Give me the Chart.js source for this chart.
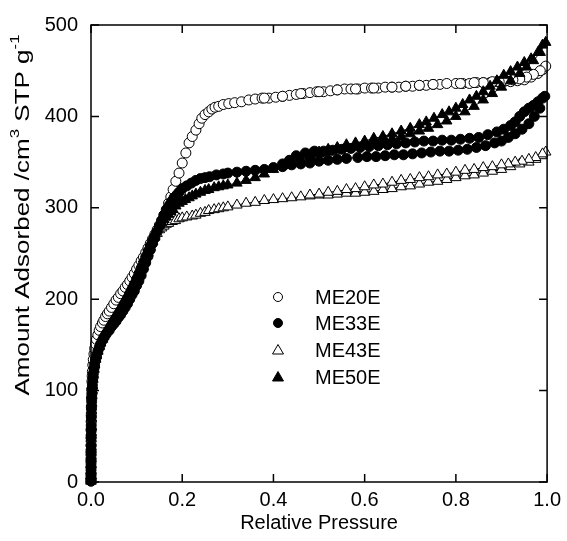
<!DOCTYPE html>
<html>
<head>
<meta charset="utf-8">
<script src="https://cdn.jsdelivr.net/npm/chart.js@4"></script>
<style>
  body { margin: 0; background: #fff; }
  canvas { display: block; }
</style>
</head>
<body>
<canvas id="grafico" width="567" height="541"></canvas>
<script>
// isotermas: ramo de adsorcao seguido do ramo de dessorcao
const series = ['ME20E', 'ME33E', 'ME43E', 'ME50E'];

const me20eP = [0.000005, 0.00001, 0.00002, 0.00004, 0.00007, 0.0001, 0.00015, 0.0002, 0.0003, 0.0004, 0.0005, 0.0007, 0.001, 0.0014, 0.002, 0.0025, 0.003, 0.004, 0.005, 0.0065, 0.008, 0.01, 0.012, 0.015, 0.018, 0.021, 0.025, 0.028, 0.032, 0.036, 0.04, 0.045, 0.05, 0.055, 0.06, 0.065, 0.07, 0.075, 0.08, 0.085, 0.09, 0.095, 0.1, 0.105, 0.11, 0.115, 0.12, 0.125, 0.13, 0.135, 0.14, 0.145, 0.15, 0.155, 0.16, 0.165, 0.17, 0.175, 0.18, 0.186, 0.193, 0.2, 0.208, 0.215, 0.222, 0.23, 0.237, 0.243, 0.25, 0.258, 0.265, 0.272, 0.28, 0.29, 0.302, 0.315, 0.33, 0.346, 0.36, 0.375, 0.39, 0.405, 0.42, 0.435, 0.45, 0.465, 0.48, 0.495, 0.51, 0.525, 0.54, 0.556, 0.57, 0.585, 0.6, 0.615, 0.63, 0.645, 0.66, 0.675, 0.69, 0.705, 0.72, 0.735, 0.75, 0.765, 0.8, 0.815, 0.83, 0.845, 0.86, 0.875, 0.89, 0.905, 0.92, 0.935, 0.95, 0.965, 0.98, 0.99, 0.997,
  0.985, 0.97, 0.955, 0.94, 0.925, 0.91, 0.895, 0.88, 0.86, 0.84, 0.81, 0.78, 0.75, 0.72, 0.69, 0.66, 0.62, 0.58, 0.54, 0.5, 0.46, 0.42, 0.38];
const me20eV = [1, 4, 9, 16, 24, 32, 40, 48, 58, 66, 73, 82, 92, 101, 110, 116, 121, 128, 134, 140, 146, 151, 156, 161, 166, 170, 174, 177, 181, 184, 187, 191, 195, 199, 202, 206, 209, 213, 216, 220, 224, 228, 233, 237, 242, 246, 251, 256, 261, 266, 271, 276, 281, 286, 292, 298, 305, 312, 320, 329, 338, 349, 360, 371, 378, 385, 392, 398, 402, 405, 408, 410, 411, 413, 414, 415, 416, 418, 419, 420, 420, 421, 422, 423, 424, 425, 426, 427, 427, 428, 429, 430, 430, 430, 431, 431, 431, 432, 432, 432, 433, 433, 434, 434, 435, 435, 436, 436, 436, 437, 437, 437, 438, 438, 438, 439, 440, 443, 447, 451, 455,
  450, 446, 443, 441, 440, 439, 438, 438, 437, 437, 436, 436, 435, 434, 433, 432, 431, 430, 429, 427, 425, 422, 420];

const me33eP = [0.000005, 0.00001, 0.00002, 0.00004, 0.00007, 0.0001, 0.00015, 0.0002, 0.0003, 0.0004, 0.0005, 0.0007, 0.001, 0.0014, 0.002, 0.0025, 0.003, 0.004, 0.005, 0.0065, 0.008, 0.01, 0.012, 0.015, 0.018, 0.021, 0.025, 0.028, 0.032, 0.036, 0.04, 0.045, 0.05, 0.055, 0.06, 0.065, 0.07, 0.075, 0.08, 0.085, 0.09, 0.095, 0.1, 0.105, 0.11, 0.115, 0.12, 0.125, 0.13, 0.135, 0.14, 0.145, 0.15, 0.155, 0.16, 0.166, 0.172, 0.177, 0.182, 0.188, 0.193, 0.2, 0.21, 0.22, 0.23, 0.24, 0.25, 0.26, 0.275, 0.29, 0.3, 0.32, 0.34, 0.36, 0.38, 0.4, 0.42, 0.44, 0.46, 0.48, 0.5, 0.52, 0.54, 0.56, 0.585, 0.605, 0.625, 0.645, 0.665, 0.685, 0.705, 0.725, 0.745, 0.765, 0.785, 0.805, 0.825, 0.845, 0.865, 0.885, 0.9, 0.915, 0.93, 0.945, 0.96, 0.972, 0.984, 0.995,
  0.99, 0.98, 0.97, 0.96, 0.95, 0.94, 0.93, 0.92, 0.905, 0.89, 0.87, 0.85, 0.83, 0.81, 0.79, 0.77, 0.75, 0.73, 0.71, 0.69, 0.67, 0.65, 0.63, 0.61, 0.59, 0.57, 0.55, 0.53, 0.51, 0.49, 0.47, 0.45, 0.435, 0.42];
const me33eV = [1, 3, 7, 13, 20, 26, 33, 40, 49, 56, 62, 71, 80, 88, 96, 102, 106, 113, 118, 124, 129, 134, 138, 143, 147, 151, 155, 158, 161, 164, 166, 170, 173, 176, 180, 183, 187, 191, 195, 200, 205, 209, 215, 220, 226, 233, 240, 247, 254, 261, 267, 274, 280, 286, 292, 298, 303, 307, 311, 314, 317, 321, 324, 327, 330, 332, 333, 334, 336, 337, 338, 339, 340, 341, 342, 344, 345, 347, 348, 349, 351, 352, 353, 354, 355, 356, 356, 357, 358, 358, 359, 360, 361, 362, 362, 363, 364, 366, 368, 371, 373, 377, 381, 386, 392, 400, 409, 422,
  420, 416, 412, 409, 405, 400, 394, 390, 386, 383, 380, 377, 376, 375, 374, 374, 373, 373, 372, 371, 370, 369, 368, 367, 366, 365, 364, 363, 362, 362, 360, 357, 352, 348];

const me43eP = [0.000005, 0.00001, 0.00002, 0.00004, 0.00007, 0.0001, 0.00015, 0.0002, 0.0003, 0.0004, 0.0005, 0.0007, 0.001, 0.0014, 0.002, 0.0025, 0.003, 0.004, 0.005, 0.0065, 0.008, 0.01, 0.012, 0.015, 0.018, 0.021, 0.025, 0.028, 0.032, 0.036, 0.04, 0.045, 0.05, 0.055, 0.06, 0.065, 0.07, 0.075, 0.08, 0.085, 0.09, 0.095, 0.1, 0.105, 0.11, 0.115, 0.12, 0.125, 0.13, 0.135, 0.14, 0.145, 0.15, 0.155, 0.16, 0.165, 0.17, 0.178, 0.185, 0.193, 0.2, 0.21, 0.222, 0.23, 0.24, 0.25, 0.258, 0.27, 0.28, 0.29, 0.3, 0.32, 0.34, 0.36, 0.38, 0.4, 0.42, 0.44, 0.46, 0.48, 0.5, 0.52, 0.54, 0.56, 0.58, 0.6, 0.62, 0.64, 0.66, 0.68, 0.7, 0.72, 0.74, 0.76, 0.78, 0.8, 0.82, 0.84, 0.86, 0.88, 0.9, 0.92, 0.94, 0.96, 0.975, 0.988, 0.997,
  0.99, 0.975, 0.96, 0.945, 0.93, 0.915, 0.9, 0.88, 0.86, 0.84, 0.82, 0.8, 0.78, 0.76, 0.74, 0.72, 0.7, 0.68, 0.66, 0.64, 0.62, 0.6, 0.58, 0.56, 0.54, 0.52, 0.5, 0.48];
const me43eV = [1, 3, 7, 12, 19, 25, 32, 38, 47, 54, 60, 69, 78, 86, 94, 100, 105, 112, 117, 123, 128, 134, 138, 143, 148, 152, 156, 159, 163, 166, 170, 174, 178, 182, 186, 190, 194, 198, 203, 207, 212, 217, 222, 227, 233, 239, 245, 251, 257, 263, 268, 272, 276, 278, 280, 282, 283, 285, 286, 288, 289, 290, 291, 292, 294, 295, 297, 298, 299, 300, 301, 303, 305, 306, 308, 309, 310, 311, 312, 313, 314, 314, 315, 316, 316, 317, 318, 320, 321, 323, 324, 326, 328, 329, 331, 333, 335, 336, 338, 340, 342, 345, 348, 350, 353, 357, 361,
  359, 355, 353, 351, 350, 348, 347, 345, 344, 342, 341, 339, 337, 336, 334, 333, 331, 330, 328, 326, 325, 323, 321, 320, 318, 317, 315, 314];

const me50eP = [0.000005, 0.00001, 0.00002, 0.00004, 0.00007, 0.0001, 0.00015, 0.0002, 0.0003, 0.0004, 0.0005, 0.0007, 0.001, 0.0014, 0.002, 0.0025, 0.003, 0.004, 0.005, 0.0065, 0.008, 0.01, 0.012, 0.015, 0.018, 0.021, 0.025, 0.028, 0.032, 0.036, 0.04, 0.045, 0.05, 0.055, 0.06, 0.065, 0.07, 0.075, 0.08, 0.085, 0.09, 0.095, 0.1, 0.105, 0.11, 0.115, 0.12, 0.125, 0.13, 0.135, 0.14, 0.145, 0.15, 0.155, 0.16, 0.165, 0.17, 0.175, 0.18, 0.186, 0.193, 0.2, 0.207, 0.215, 0.222, 0.23, 0.24, 0.25, 0.258, 0.27, 0.28, 0.29, 0.3, 0.32, 0.34, 0.36, 0.38, 0.4, 0.42, 0.44, 0.46, 0.48, 0.5, 0.52, 0.54, 0.56, 0.58, 0.6, 0.62, 0.64, 0.66, 0.68, 0.7, 0.72, 0.74, 0.76, 0.78, 0.8, 0.82, 0.84, 0.86, 0.88, 0.9, 0.92, 0.94, 0.955, 0.97, 0.985, 0.997,
  0.99, 0.98, 0.965, 0.95, 0.935, 0.92, 0.905, 0.89, 0.875, 0.86, 0.845, 0.83, 0.815, 0.8, 0.785, 0.77, 0.752, 0.735, 0.72, 0.7, 0.68, 0.66, 0.64, 0.62, 0.6, 0.58, 0.56, 0.54, 0.52, 0.5, 0.48];
const me50eV = [1, 3, 7, 13, 20, 26, 33, 39, 48, 55, 61, 70, 79, 87, 95, 101, 106, 113, 118, 124, 129, 135, 139, 144, 149, 153, 157, 160, 164, 167, 171, 175, 179, 183, 187, 191, 196, 200, 205, 210, 215, 220, 226, 232, 238, 244, 250, 256, 262, 268, 273, 277, 281, 284, 287, 290, 293, 296, 298, 302, 305, 307, 309, 311, 313, 315, 317, 319, 320, 322, 323, 324, 325, 327, 330, 333, 337, 342, 346, 350, 353, 356, 359, 361, 363, 365, 367, 369, 371, 373, 375, 378, 381, 384, 387, 391, 395, 400, 405, 411, 418, 425, 432, 439, 447, 454, 461, 470, 481,
  478, 470, 463, 459, 454, 449, 445, 439, 433, 427, 422, 418, 413, 409, 405, 402, 398, 394, 391, 387, 384, 381, 378, 376, 373, 371, 369, 366, 364, 361, 358];

const xTicks = [0, 0.2, 0.4, 0.6, 0.8, 1.0];
const yTicks = [0, 100, 200, 300, 400, 500];

const FONTE = '"Liberation Sans", Arial, sans-serif';

function pontos(ps, vs) {
  return ps.map((p, i) => ({ x: p, y: vs[i] }));
}

function serie(nome, ps, vs, estilo, cheio, ordem) {
  return {
    label: nome,
    data: pontos(ps, vs),
    showLine: true,
    borderColor: '#000',
    borderWidth: 1,
    pointStyle: estilo,
    pointRadius: estilo === 'triangle' ? 6 : 5,
    pointBackgroundColor: cheio ? '#000' : '#fff',
    pointBorderColor: '#000',
    pointBorderWidth: 1,
    order: ordem,
    clip: 10
  };
}

// moldura, marcas internas, titulo do eixo y e legenda
const extras = {
  id: 'extras',
  afterDatasetsDraw(chart) {
    const ctx = chart.ctx;
    const a = chart.chartArea;
    const sx = chart.scales.x;
    const sy = chart.scales.y;
    ctx.save();
    ctx.strokeStyle = '#000';
    ctx.lineWidth = 1.5;
    ctx.strokeRect(a.left, a.top, a.right - a.left, a.bottom - a.top);
    ctx.beginPath();
    xTicks.forEach(t => {
      const px = sx.getPixelForValue(t);
      ctx.moveTo(px, a.bottom); ctx.lineTo(px, a.bottom - 8);
      ctx.moveTo(px, a.top); ctx.lineTo(px, a.top + 8);
    });
    yTicks.forEach(t => {
      const py = sy.getPixelForValue(t);
      ctx.moveTo(a.left, py); ctx.lineTo(a.left + 8, py);
      ctx.moveTo(a.right, py); ctx.lineTo(a.right - 8, py);
    });
    ctx.stroke();

    // titulo do eixo y com sobrescritos (esticado no sentido da leitura)
    ctx.translate(22, 215);
    ctx.rotate(-Math.PI / 2);
    ctx.scale(1.3, 1);
    const partes = [
      ['Amount Adsorbed /cm', 20, 0],
      ['3', 13, -8],
      [' STP g', 20, 0],
      ['-1', 13, -8]
    ];
    let total = 0;
    partes.forEach(([t, f]) => { ctx.font = f + 'px ' + FONTE; total += ctx.measureText(t).width; });
    let x = -total / 2;
    ctx.fillStyle = '#000';
    ctx.textBaseline = 'middle';
    ctx.textAlign = 'left';
    partes.forEach(([t, f, dy]) => {
      ctx.font = f + 'px ' + FONTE;
      ctx.fillText(t, x, dy + 1);
      x += ctx.measureText(t).width;
    });
    ctx.restore();

    // legenda dentro do grafico
    ctx.save();
    const linhas = [297, 323, 350, 377];
    chart.data.datasets.forEach((ds, i) => {
      const y = linhas[i];
      const x0 = 278;
      ctx.lineWidth = 1;
      ctx.strokeStyle = '#000';
      ctx.fillStyle = ds.pointBackgroundColor;
      ctx.beginPath();
      if (ds.pointStyle === 'triangle') {
        ctx.moveTo(x0, y - 5.5);
        ctx.lineTo(x0 + 5.5, y + 4);
        ctx.lineTo(x0 - 5.5, y + 4);
        ctx.closePath();
      } else {
        ctx.arc(x0, y, 4.5, 0, Math.PI * 2);
      }
      ctx.fill();
      ctx.stroke();
      ctx.fillStyle = '#000';
      ctx.font = '20px ' + FONTE;
      ctx.textBaseline = 'middle';
      ctx.fillText(ds.label, 315, y + 1);
    });
    ctx.restore();
  }
};

new Chart(document.getElementById('grafico'), {
  type: 'scatter',
  data: {
    datasets: [
      serie(series[0], me20eP, me20eV, 'circle', false, 4),
      serie(series[1], me33eP, me33eV, 'circle', true, 2),
      serie(series[2], me43eP, me43eV, 'triangle', false, 3),
      serie(series[3], me50eP, me50eV, 'triangle', true, 1)
    ]
  },
  options: {
    responsive: false,
    animation: false,
    layout: { padding: { left: 0, right: 16, top: 21, bottom: 0 } },
    plugins: {
      legend: { display: false },
      tooltip: { enabled: false }
    },
    scales: {
      x: {
        type: 'linear',
        min: 0,
        max: 1,
        afterFit: s => { s.height = 59; },
        afterBuildTicks: s => { s.ticks = xTicks.map(v => ({ value: v })); },
        grid: { display: false, drawTicks: false },
        border: { display: false },
        ticks: {
          padding: 6,
          color: '#000',
          font: { family: FONTE, size: 20 },
          callback: v => v.toFixed(1)
        },
        title: {
          display: true,
          text: 'Relative Pressure',
          color: '#000',
          font: { family: FONTE, size: 20 },
          padding: { top: 0, bottom: 6 }
        }
      },
      y: {
        type: 'linear',
        min: 0,
        max: 500,
        afterFit: s => { s.width = 91; },
        afterBuildTicks: s => { s.ticks = yTicks.map(v => ({ value: v })); },
        grid: { display: false, drawTicks: false },
        border: { display: false },
        ticks: {
          padding: 13,
          color: '#000',
          font: { family: FONTE, size: 20 }
        }
      }
    }
  },
  plugins: [extras]
});
</script>
</body>
</html>
